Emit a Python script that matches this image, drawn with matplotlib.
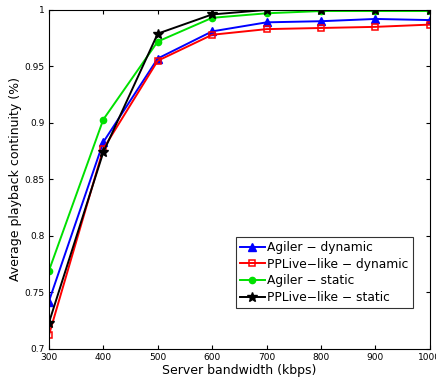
import matplotlib
matplotlib.use("Agg")
import matplotlib.pyplot as plt

bandwidth = [300, 400, 500, 600, 700, 800, 900, 1000]
agiler_dynamic = [0.742, 0.883, 0.957, 0.981, 0.989, 0.990, 0.992, 0.991]
pplive_dynamic = [0.712, 0.877, 0.955, 0.978, 0.983, 0.984, 0.985, 0.987]
agiler_static = [0.769, 0.903, 0.972, 0.993, 0.997, 0.999, 0.999, 0.999]
pplive_static = [0.723, 0.874, 0.979, 0.996, 1.000, 1.000, 1.000, 1.000]
yticks = [0.7, 0.75, 0.8, 0.85, 0.9, 0.95, 1.0]
ytick_labels = ["0.7", "0.75", "0.8", "0.85", "0.9", "0.95", "1"]

fig = plt.figure(figsize=(4.36, 3.81), dpi=100)
ax = fig.add_axes([0.112, 0.084, 0.874, 0.890])

ax.plot(bandwidth, agiler_dynamic, color="#0000ff", marker="^", markersize=5.5, lw=1.4, label="Agiler − dynamic")
ax.plot(bandwidth, pplive_dynamic, color="#ff0000", marker="s", markersize=4.5, mfc="none", mew=1.1, lw=1.4, label="PPLive−like − dynamic")
ax.plot(bandwidth, agiler_static, color="#00e000", marker="o", markersize=4.5, lw=1.4, label="Agiler − static")
ax.plot(bandwidth, pplive_static, color="black", marker="*", markersize=7, lw=1.4, label="PPLive−like − static")

ax.set_xlim(300, 1000)
ax.set_ylim(0.7, 1.0)
ax.set_xticks(bandwidth)
ax.set_yticks(yticks)
ax.set_yticklabels(ytick_labels)
ax.tick_params(direction="in", top=True, right=True, labelsize=6.5, length=3, pad=3)
for s in ax.spines.values():
    s.set_linewidth(0.8)
ax.set_xlabel("Server bandwidth (kbps)", fontsize=9, labelpad=1)
ax.set_ylabel("Average playback continuity (%)", fontsize=9, labelpad=2)

leg = ax.legend(loc="lower right", bbox_to_anchor=(0.955, 0.12), fontsize=8.8, frameon=True, fancybox=False,
                edgecolor="black", handlelength=2.0, borderpad=0.35, labelspacing=0.3, handletextpad=0.2,
                borderaxespad=0)
leg.get_frame().set_linewidth(0.8)

fig.savefig("out.png", dpi=100)
